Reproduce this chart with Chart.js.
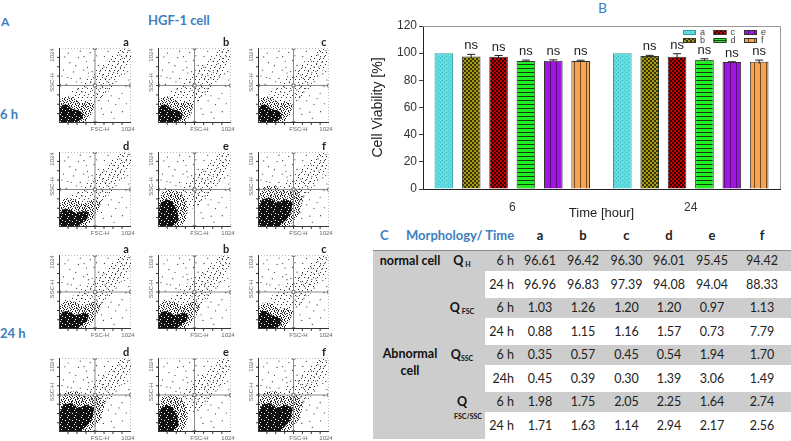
<!DOCTYPE html>
<html>
<head>
<meta charset="utf-8">
<script src="https://cdn.jsdelivr.net/npm/chart.js@4.4.1/dist/chart.umd.min.js"></script>
<style>
  body { margin: 0; width: 791px; height: 441px; background: #fff; position: relative; overflow: hidden; font-family: Lato, "Open Sans", sans-serif; }
  .abs { position: absolute; white-space: nowrap; }
  .blue { color: #3d7ebf; font-weight: bold; }
  .cell { position: absolute; font-size: 12.5px; color: #222; text-align: center; white-space: nowrap; }
  .lab { font-weight: bold; color: #111; }
  canvas { position: absolute; }
</style>
</head>
<body>
<div class="abs blue" style="left:1px;top:14px;font-size:12px">A</div>
<div class="abs blue" style="left:148px;top:12px;font-size:13px">HGF-1 cell</div>
<div class="abs blue" style="left:0px;top:106px;font-size:13px">6 h</div>
<div class="abs blue" style="left:0px;top:325px;font-size:13px">24 h</div>
<div class="abs blue" style="left:598px;top:-1px;font-size:14px;font-weight:normal">B</div>

<canvas id="viability" width="421" height="225" style="left:370px;top:0px"></canvas>
<div id="flow"></div>
<div id="table"></div>

<script>
// ---- panel B data ----
const timeLabels = ["6", "24"];
const seriesNames = ["a", "b", "c", "d", "e", "f"];
const viabA = [100, 100];
const viabB = [97.5, 98.0];
const viabC = [97.3, 97.4];
const viabD = [94.2, 95.1];
const viabE = [94.4, 93.5];
const viabF = [94.3, 93.6];
const errA = [0, 0];
const errB = [1.6, 0.4];
const errC = [1.0, 2.2];
const errD = [0.7, 0.8];
const errE = [0.7, 0.2];
const errF = [0.5, 1.3];
const sigLabels = ["", "ns", "ns", "ns", "ns", "ns"];
const yTicks = [0, 20, 40, 60, 80, 100, 120];

// ---- panel C data ----
const qh6 = ["96.61", "96.42", "96.30", "96.01", "95.45", "94.42"];
const qh24 = ["96.96", "96.83", "97.39", "94.08", "94.04", "88.33"];
const qfsc6 = ["1.03", "1.26", "1.20", "1.20", "0.97", "1.13"];
const qfsc24 = ["0.88", "1.15", "1.16", "1.57", "0.73", "7.79"];
const qssc6 = ["0.35", "0.57", "0.45", "0.54", "1.94", "1.70"];
const qssc24 = ["0.45", "0.39", "0.30", "1.39", "3.06", "1.49"];
const qboth6 = ["1.98", "1.75", "2.05", "2.25", "1.64", "2.74"];
const qboth24 = ["1.71", "1.63", "1.14", "2.94", "2.17", "2.56"];

// ---- panel A data (FSC-H / SSC-H, channel units 0-1024) ----
const channelMax = 1024;
const gate = 512;
const coreSmall = [[0,0],[230,0],[320,50],[350,120],[290,170],[190,190],[120,250],[50,250],[10,190],[0,100]];
const haloSmall = [[0,0],[370,0],[460,110],[510,250],[420,290],[300,270],[200,350],[90,370],[20,320],[0,200]];
const coreDiag = [[0,0],[250,0],[400,110],[430,200],[350,220],[230,190],[130,250],[50,240],[0,150]];
const haloDiag = [[0,0],[380,0],[520,150],[600,330],[500,380],[330,310],[220,380],[90,400],[0,300]];
const coreTall = [[0,0],[200,0],[290,90],[270,220],[210,340],[120,380],[40,330],[0,200]];
const haloTall = [[0,0],[330,0],[420,150],[400,330],[320,470],[180,520],[60,480],[0,350]];
const coreLarge = [[0,0],[300,0],[460,150],[500,330],[400,380],[270,330],[170,400],[60,380],[0,240]];
const haloLarge = [[0,0],[440,0],[600,180],[660,420],[540,520],[380,480],[260,560],[100,560],[0,420]];
const diagBand = [[300,150],[620,330],[880,640],[1024,860],[1024,1024],[880,1024],[620,800],[380,600],[150,420]];
const sparseDots = [[600,520],[655,610],[702,648],[728,705],[806,768],[846,812],[903,884],[957,906],
  [563,452],[618,487],[684,566],[742,617],[777,688],[833,702],[876,763],[921,827],[302,608],[207,697],
  [153,823],[405,757],[498,852],[356,905],[252,563],[124,621],[63,722],[703,303],[807,252],[897,406],
  [604,197],[746,148],[951,503],[982,987],[418,683],[563,786],[646,907],[103,526],[452,563],[517,628],
  [583,703],[641,764],[537,403],[604,362],[478,446],[383,487],[328,424],[266,462],[558,306],[662,424],
  [721,524],[858,643],[303,981],[698,978],[902,974],[977,702],[82,903],[444,961],[173,611],[238,782],
  [391,843],[472,702],[533,918],[617,655],[771,842],[812,566],[866,931],[934,671],[993,587],[688,471],
  [742,372],[853,333],[958,263],[631,118],[783,64],[902,155],[42,642],[131,955],[276,893],[351,722]];
const panelLetters = ["a", "b", "c", "d", "e", "f"];
const panelShapes = ["small", "small", "small", "diag", "tall", "large",
                     "diag", "diag", "small", "large", "tall", "large"];

// layout of the 12 flow plots (plot-area edges in page pixels)
const colX = [[59, 131], [158, 231], [258, 329]];
const rowY = [[48, 123], [152, 227], [255, 329], [358, 432]];

function makePattern(bg, fg, kind) {
  const c = document.createElement("canvas");
  const w = kind === "vlines" ? 6 : 4;
  c.width = w; c.height = 4;
  const g = c.getContext("2d");
  g.fillStyle = bg; g.fillRect(0, 0, w, 4);
  g.fillStyle = fg;
  if (kind === "dots") { g.fillRect(0, 0, 1, 1); g.fillRect(2, 2, 1, 1); }
  if (kind === "checker") { g.fillRect(0, 0, 2, 2); g.fillRect(2, 2, 2, 2); }
  if (kind === "hlines") { g.fillRect(0, 0, 4, 1); }
  if (kind === "vlines") { g.fillRect(0, 0, 1, 4); }
  return g.createPattern(c, "repeat");
}

// speckle textures for the dot clouds (a tile of pixel marks)
function makeSpeckle(rows, color) {
  const c = document.createElement("canvas");
  c.width = rows[0].length; c.height = rows.length;
  const g = c.getContext("2d");
  g.fillStyle = color;
  rows.forEach((r, yy) => { for (let xx = 0; xx < r.length; xx++) if (r[xx] === "#") g.fillRect(xx, yy, 1, 1); });
  return g.createPattern(c, "repeat");
}
const speckleCore = makeSpeckle(["#######", "###.###", "#######", "#####.#", "#.#####", "#######", "####.##"], "#111");
const speckleMid = makeSpeckle(["#..#...", ".#...#.", "...#..#", "#.#....", "....#.#", ".#..#..", "#....#."], "#222");
const speckleLow = makeSpeckle([".........", "..#......", "......#..", ".........", "#........", ".....#...", ".........", "...#....#", "........."], "#333");

const fills = [
  makePattern("#5fdde0", "#41b8be", "dots"),
  makePattern("#a39c1c", "#3a3300", "checker"),
  makePattern("#cc0000", "#2a0000", "checker"),
  makePattern("#22ee22", "#0a400a", "hlines"),
  makePattern("#a015e0", "#5a0a80", "vlines"),
  makePattern("#f4a455", "#7a4a1a", "vlines"),
];
const edges = ["#2a9ea4", "#333", "#333", "#333", "#333", "#333"];
const values = [viabA, viabB, viabC, viabD, viabE, viabF];
const errors = [errA, errB, errC, errD, errE, errF];
const fontFam = "'Liberation Sans', Arial, sans-serif";

const extrasPlugin = {
  id: "extras",
  afterDatasetsDraw(chart) {
    const { ctx, chartArea: a, scales: { y } } = chart;
    ctx.save();
    // error bars + significance labels
    chart.data.datasets.forEach((ds, i) => {
      chart.getDatasetMeta(i).data.forEach((bar, j) => {
        const v = ds.data[j], e = errors[i][j];
        const top = y.getPixelForValue(v + e);
        if (e > 0) {
          ctx.strokeStyle = "#222"; ctx.lineWidth = 1;
          ctx.beginPath();
          ctx.moveTo(bar.x, y.getPixelForValue(v - e)); ctx.lineTo(bar.x, top);
          ctx.moveTo(bar.x - 4, top); ctx.lineTo(bar.x + 4, top);
          ctx.stroke();
        }
        if (sigLabels[i]) {
          ctx.fillStyle = "#222"; ctx.font = "13px " + fontFam;
          ctx.textAlign = "center"; ctx.textBaseline = "bottom";
          ctx.fillText(sigLabels[i], bar.x, top - 2);
        }
      });
    });
    // frame on top / right
    ctx.strokeStyle = "#999"; ctx.lineWidth = 1;
    ctx.beginPath();
    ctx.moveTo(a.left, a.top + 0.5); ctx.lineTo(a.right + 0.5, a.top + 0.5); ctx.lineTo(a.right + 0.5, a.bottom);
    ctx.stroke();
    // legend, two rows, column major
    ctx.font = "9px " + fontFam; ctx.textAlign = "left"; ctx.textBaseline = "middle";
    seriesNames.forEach((name, i) => {
      const col = Math.floor(i / 2), row = i % 2;
      const x = a.right - 97 + col * 30.5, yy = a.top + 4 + row * 8;
      ctx.fillStyle = fills[i]; ctx.fillRect(x, yy, 13, 5);
      ctx.strokeStyle = edges[i]; ctx.strokeRect(x + 0.5, yy + 0.5, 12, 4);
      ctx.fillStyle = "#444"; ctx.fillText(name, x + 17, yy + 3);
    });
    ctx.restore();
  }
};

new Chart(document.getElementById("viability"), {
  type: "bar",
  data: {
    labels: timeLabels,
    datasets: seriesNames.map((name, i) => ({
      label: name,
      data: values[i],
      backgroundColor: fills[i],
      borderColor: edges[i],
      borderWidth: 1,
      categoryPercentage: 0.92,
      barPercentage: 0.68,
    })),
  },
  options: {
    responsive: false,
    animation: false,
    layout: { padding: { left: 0, top: 26, right: 11, bottom: 0 } },
    plugins: { legend: { display: false }, tooltip: { enabled: false } },
    scales: {
      x: {
        grid: { display: false },
        border: { color: "#222" },
        ticks: { color: "#333", font: { family: fontFam, size: 12 }, padding: 3 },
        title: { display: true, text: "Time [hour]", color: "#222", font: { family: fontFam, size: 13 }, padding: { top: -6 } },
        afterFit: (s) => { s.height = 36; },
      },
      y: {
        min: 0, max: 120,
        grid: { drawOnChartArea: false, tickLength: 4, color: "#444" },
        border: { color: "#222" },
        ticks: {
          stepSize: 10, color: "#333", padding: 2,
          font: { family: fontFam, size: 12 },
          callback: (v) => (yTicks.includes(v) ? v : ""),
        },
        title: { display: true, text: "Cell Viability [%]", color: "#222", font: { family: fontFam, size: 14 }, padding: { top: 0, bottom: 2 } },
        afterFit: (s) => { s.width = 53; },
      },
    },
  },
  plugins: [extrasPlugin],
});

// ---- panel A: flow cytometry dot plots ----
const shapeTable = {
  small: [haloSmall, coreSmall],
  diag: [haloDiag, coreDiag],
  tall: [haloTall, coreTall],
  large: [haloLarge, coreLarge],
};

const flowPlugin = {
  id: "flowcloud",
  beforeDatasetsDraw(chart, args, opts) {
    const { ctx, chartArea: a, scales: { x, y } } = chart;
    const [halo, core] = shapeTable[opts.shape];
    ctx.save();
    ctx.beginPath(); ctx.rect(a.left, a.top, a.right - a.left, a.bottom - a.top); ctx.clip();
    [[diagBand, speckleLow], [halo, speckleMid], [core, speckleCore]].forEach(([poly, tex]) => {
      ctx.beginPath();
      poly.forEach(([px, py], k) => {
        const X = x.getPixelForValue(px), Y = y.getPixelForValue(py);
        k ? ctx.lineTo(X, Y) : ctx.moveTo(X, Y);
      });
      ctx.closePath(); ctx.fillStyle = tex; ctx.fill();
    });
    ctx.restore();
  },
  afterDraw(chart, args, opts) {
    const { ctx, chartArea: a } = chart;
    ctx.save();
    ctx.strokeStyle = "#bbb"; ctx.setLineDash([1, 2]); ctx.lineWidth = 1;
    ctx.beginPath();
    ctx.moveTo(a.left, a.top + 0.5); ctx.lineTo(a.right - 0.5, a.top + 0.5); ctx.lineTo(a.right - 0.5, a.bottom);
    ctx.stroke();
    ctx.setLineDash([]); ctx.strokeStyle = "#333";
    ctx.beginPath();
    ctx.moveTo(a.left + 0.5, a.top); ctx.lineTo(a.left + 0.5, a.bottom - 0.5); ctx.lineTo(a.right, a.bottom - 0.5);
    for (let k = 1; k < 8; k++) {
      const tx = a.left + (a.right - a.left) * k / 8, ty = a.bottom - (a.bottom - a.top) * k / 8;
      ctx.moveTo(tx, a.bottom); ctx.lineTo(tx, a.bottom + 2);
      ctx.moveTo(a.left, ty); ctx.lineTo(a.left - 2, ty);
    }
    ctx.stroke();
    ctx.fillStyle = "#666"; ctx.font = "6px " + fontFam;
    ctx.textBaseline = "middle"; ctx.textAlign = "center";
    ctx.fillText("FSC-H", (a.left + a.right) / 2 + 5, a.bottom + 6);
    ctx.fillText("1024", a.right - 3, a.bottom + 6);
    ctx.save(); ctx.translate(a.left - 7, a.top + 7); ctx.rotate(-Math.PI / 2); ctx.fillText("1024", 0, 0); ctx.restore();
    ctx.save(); ctx.translate(a.left - 7, (a.top + a.bottom) / 2 - 3); ctx.rotate(-Math.PI / 2); ctx.fillText("SSC-H", 0, 0); ctx.restore();
    ctx.fillStyle = "#222"; ctx.font = "bold 11px Lato, sans-serif";
    ctx.fillText(opts.letter, a.right - 5, a.top - 6);
    ctx.restore();
  }
};

const flowBox = document.getElementById("flow");
rowY.forEach(([y0, y1], r) => {
  colX.forEach(([x0, x1], c) => {
    const idx = r * 3 + c;
    const cv = document.createElement("canvas");
    const padL = 16, padT = 12, padR = 6, padB = 12;
    cv.width = x1 - x0 + padL + padR; cv.height = y1 - y0 + padT + padB;
    cv.style.left = (x0 - padL) + "px"; cv.style.top = (y0 - padT) + "px";
    flowBox.appendChild(cv);
    const gateStyle = { showLine: true, borderColor: "#8a8a8a", borderWidth: 1, pointStyle: "rect",
      pointRadius: 2, pointBackgroundColor: "#fff", pointBorderColor: "#777", pointBorderWidth: 1 };
    new Chart(cv, {
      type: "scatter",
      data: {
        datasets: [
          { data: sparseDots.map(([x, y]) => ({ x, y })), pointRadius: 0.6, backgroundColor: "#333", borderWidth: 0 },
          Object.assign({ data: [{ x: gate, y: 0 }, { x: gate, y: gate }, { x: gate, y: channelMax }] }, gateStyle),
          Object.assign({ data: [{ x: 0, y: gate }, { x: gate, y: gate }, { x: channelMax, y: gate }] }, gateStyle),
        ],
      },
      options: {
        responsive: false, animation: false,
        layout: { padding: { left: padL, top: padT, right: padR, bottom: padB } },
        scales: {
          x: { type: "linear", min: 0, max: channelMax, display: false },
          y: { type: "linear", min: 0, max: channelMax, display: false },
        },
        plugins: {
          legend: { display: false }, tooltip: { enabled: false },
          flowcloud: { shape: panelShapes[idx], letter: panelLetters[(r % 2) * 3 + c] },
        },
      },
      plugins: [flowPlugin],
    });
  });
});

// ---- panel C: table ----
const subStyle = "font-size:7px;position:relative;top:2px;margin-left:2px";
const tableRows = [
  { q: `Q<span style="${subStyle}">H</span>`, t: "6 h", v: qh6 },
  { q: "", t: "24 h", v: qh24 },
  { q: `Q<span style="${subStyle}">FSC</span>`, t: "6 h", v: qfsc6 },
  { q: "", t: "24 h", v: qfsc24 },
  { q: `Q<span style="${subStyle};margin-left:0">SSC</span>`, t: "6 h", v: qssc6 },
  { q: "", t: "24h", v: qssc24 },
  { q: "Q", t: "6 h", v: qboth6 },
  { q: "", t: "24 h", v: qboth24 },
];
const valCenters = [540, 583, 626.5, 669, 712, 762];
let html = "";
html += `<div class="abs blue" style="left:380px;top:227px;font-size:13px">C</div>`;
html += `<div class="abs blue" style="left:406px;top:227px;font-size:13px">Morphology/ Time</div>`;
seriesNames.forEach((n, i) => {
  html += `<div class="cell blue" style="left:${valCenters[i] - 20}px;width:40px;top:227px;font-size:13px">${n}</div>`;
});
let yPos = 251;
tableRows.forEach((row, k) => {
  const h = k % 2 === 0 ? 20 : 27;
  if (k % 2 === 0) html += `<div class="abs" style="left:373px;width:418px;top:${yPos}px;height:${h}px;background:#cdcdcd"></div>`;
  else html += `<div class="abs" style="left:373px;width:112px;top:${yPos}px;height:${h}px;background:#cdcdcd"></div>`;
  const mid = yPos + h / 2 - 8;
  html += `<div class="cell lab" style="left:440px;width:44px;top:${mid}px">${row.q}</div>`;
  html += `<div class="cell" style="left:480px;width:34px;top:${mid}px;text-align:right">${row.t}</div>`;
  row.v.forEach((v, i) => {
    html += `<div class="cell" style="left:${valCenters[i] - 22}px;width:44px;top:${mid}px">${v}</div>`;
  });
  yPos += h;
});
html += `<div class="abs" style="left:373px;width:418px;top:250px;height:1px;background:#8c8c8c"></div>`;
html += `<div class="cell lab" style="left:373px;width:74px;top:253px">normal cell</div>`;
html += `<div class="cell lab" style="left:373px;width:74px;top:345px;line-height:17px">Abnormal<br>cell</div>`;
html += `<div class="cell lab" style="left:446px;width:44px;top:412px;font-size:7px">FSC/SSC</div>`;
document.getElementById("table").innerHTML = html;
</script>
</body>
</html>
